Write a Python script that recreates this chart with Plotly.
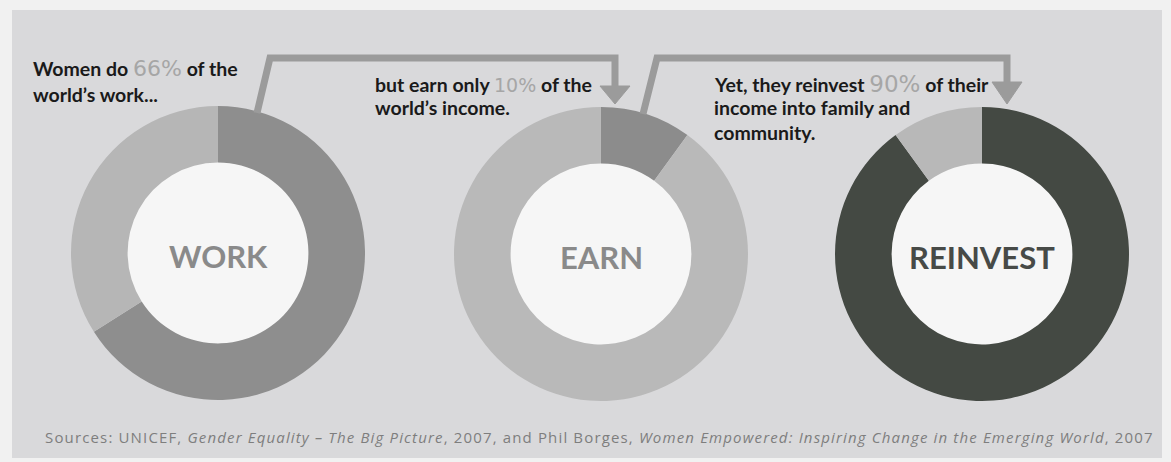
import plotly.graph_objects as go

W, H = 1171, 462

# ---- data ----
categories = ["WORK", "EARN", "REINVEST"]
women_share = [66, 10, 90]            # % share attributed to women
other_share = [100 - v for v in women_share]
slice_labels = ["Women", "Other"]
captions = [
    ["Women do {p} of the", "world\u2019s work..."],
    ["but earn only {p} of the", "world\u2019s income."],
    ["Yet, they reinvest {p} of their", "income into family and", "community."],
]
pct_text = ["66%", "10%", "90%"]
source_text = ("Sources: UNICEF, <i>Gender Equality \u2013 The Big Picture</i>, 2007, and Phil Borges, "
               "<i>Women Empowered: Inspiring Change in the Emerging World</i>, 2007")

# ---- styles ----
women_colors = ["#8e8e8e", "#8c8c8c", "#444943"]
other_colors = ["#b6b6b6", "#b9b9b9", "#b8b8b8"]
label_colors = ["#8a8a8a", "#8a8a8a", "#474a47"]
pct_sizes = [22, 19, 23]
centers = [(218, 253), (601, 254), (982, 254)]
R_OUT = 147
HOLE = 0.615
cap_pos = [(31, [68, 94]), (373, [84, 108]), (712, [84, 108, 132])]

def px(x):
    return x / W

def py(y):
    return 1 - y / H

fig = go.Figure()
for i, cat in enumerate(categories):
    cx, cy = centers[i]
    fig.add_trace(go.Pie(
        labels=slice_labels,
        values=[women_share[i], other_share[i]],
        sort=False,
        direction="clockwise",
        rotation=0,
        hole=HOLE,
        textinfo="none",
        hoverinfo="label+value",
        marker=dict(colors=[women_colors[i], other_colors[i]], line=dict(width=0)),
        domain=dict(x=[px(cx - R_OUT), px(cx + R_OUT)], y=[py(cy + R_OUT), py(cy - R_OUT)]),
        showlegend=False,
        name=cat,
    ))

shapes = []
# panel
shapes.append(dict(type="rect", xref="paper", yref="paper", x0=px(12), x1=px(1162), y0=py(458), y1=py(10),
                   fillcolor="#d9d9db", line=dict(width=0), layer="below"))
# white centres
r_in = R_OUT * HOLE
for (cx, cy) in centers:
    shapes.append(dict(type="circle", xref="paper", yref="paper",
                       x0=px(cx - r_in - 1), x1=px(cx + r_in + 1), y0=py(cy + r_in + 1), y1=py(cy - r_in - 1),
                       fillcolor="#f6f6f6", line=dict(width=0), layer="below"))

def path(points, close=False):
    s = "M " + " L ".join(f"{px(x):.5f},{py(y):.5f}" for x, y in points)
    return s + (" Z" if close else "")

conn_color = "#9b9b9b"
connectors = [
    ([(257, 113), (270, 58), (615, 58), (615, 88)], [(600, 86), (630, 86), (615, 104)]),
    ([(643, 114), (657, 58), (1007, 58), (1007, 84)], [(992, 82), (1022, 82), (1007, 104)]),
]
for line_pts, head in connectors:
    shapes.append(dict(type="path", xref="paper", yref="paper", path=path(line_pts),
                       line=dict(color=conn_color, width=7), layer="above"))
    shapes.append(dict(type="path", xref="paper", yref="paper", path=path(head, close=True),
                       fillcolor=conn_color, line=dict(color=conn_color, width=1), layer="above"))

annotations = []
# centre labels
for i, cat in enumerate(categories):
    cx, cy = centers[i]
    annotations.append(dict(text=cat, x=px(cx), y=py(cy + 3), xref="paper", yref="paper",
                            showarrow=False, xanchor="center", yanchor="middle",
                            font=dict(family="Lato", size=31, weight="bold", color=label_colors[i])))
# captions
for i, lines in enumerate(captions):
    x0, ys = cap_pos[i]
    for j, ln in enumerate(lines):
        t = ln.replace("{p}", f"<span style='font-family:DejaVu Sans;font-weight:normal;color:#a6a6a6;"
                              f"font-size:{pct_sizes[i]}px'>{pct_text[i]}</span>")
        annotations.append(dict(text=t, x=px(x0), y=py(ys[j]), xref="paper", yref="paper",
                                showarrow=False, xanchor="left", yanchor="middle",
                                font=dict(family="Lato", size=19.5, weight="bold", color="#1a1a1a")))
# source
annotations.append(dict(text=f"<span style='letter-spacing:1.15px'>{source_text}</span>",
                        x=px(43), y=py(437), xref="paper", yref="paper",
                        showarrow=False, xanchor="left", yanchor="middle",
                        font=dict(family="Open Sans", size=15, color="#7e7e7e")))

fig.update_layout(
    width=W, height=H,
    margin=dict(l=0, r=0, t=0, b=0),
    paper_bgcolor="#f1f1f1",
    plot_bgcolor="#f1f1f1",
    shapes=shapes,
    annotations=annotations,
)

fig.write_html("out.html")
